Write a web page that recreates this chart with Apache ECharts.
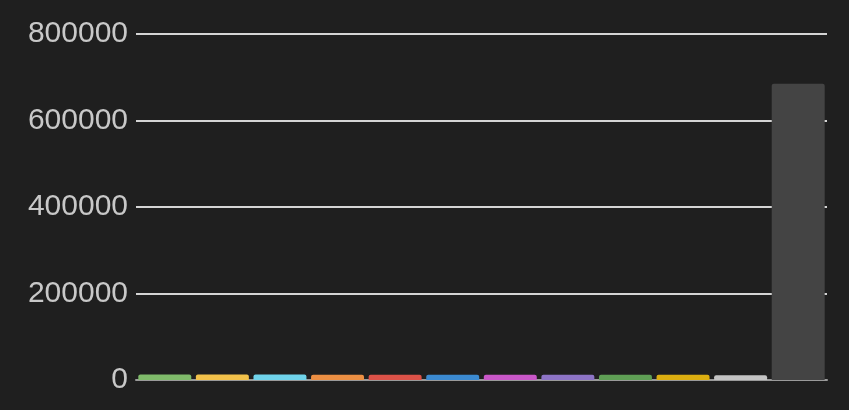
<!DOCTYPE html>
<html><head><meta charset="utf-8">
<script src="https://cdn.jsdelivr.net/npm/echarts@6/dist/echarts.min.js"></script>
<style>html,body{margin:0;padding:0;background:#1f1f1f}#c{width:849px;height:410px}</style>
</head><body><div id="c"></div>
<script>
const categories = ['A','B','C','D','E','F','G','H','I','J','K','L'];
const values = [13000, 13000, 13000, 12000, 12000, 12000, 12000, 12000, 12000, 12000, 11000, 685000];
const colors = ['#7fba6a','#f2c14a','#6fd3ea','#ec8f43','#dc5248','#3b8ad1','#c957c8','#8d74c6','#5f9f55','#dcae10','#c4c4c4','#444444'];
const yTicks = [0, 200000, 400000, 600000, 800000];

const chart = echarts.init(document.getElementById('c'));
chart.setOption({
  backgroundColor: '#1f1f1f',
  animation: false,
  grid: { left: 136, right: 22, top: 34, bottom: 30, containLabel: false },
  xAxis: {
    type: 'category', data: categories,
    axisLine: { show: true, lineStyle: { color: '#9a9a9a', width: 2 } },
    axisTick: { show: false }, axisLabel: { show: false }
  },
  yAxis: {
    type: 'value', min: yTicks[0], max: yTicks[yTicks.length-1], interval: 200000,
    axisLine: { show: false }, axisTick: { show: false },
    axisLabel: { color: '#c8c8c8', fontSize: 30, fontFamily: 'Liberation Sans, Arial, sans-serif', margin: 8,
      formatter: v => String(v) },
    splitLine: { lineStyle: { color: '#d4d4d4', width: 2 } }
  },
  series: [{
    type: 'bar',
    data: values.map((v, i) => ({ value: v, itemStyle: { color: colors[i] } })),
    barCategoryGap: '8%',
    itemStyle: { borderRadius: [2, 2, 0, 0] }
  }]
});
</script></body></html>
